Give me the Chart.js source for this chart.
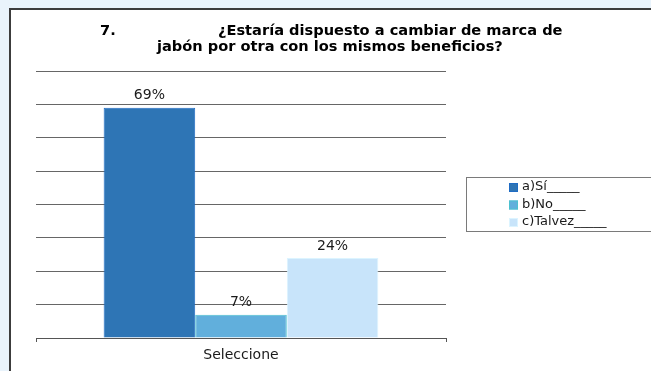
<!DOCTYPE html>
<html>
<head>
<meta charset="utf-8">
<script src="https://cdn.jsdelivr.net/npm/chart.js@4"></script>
<style>
  html, body { margin: 0; padding: 0; }
  body { width: 651px; height: 371px; overflow: hidden; background: #e9f3fb; position: relative; }
  #frame { position: absolute; left: 9px; top: 8px; width: 700px; height: 400px; background: #fff;
           border-left: 2px solid #3c3c3c; border-top: 2px solid #3c3c3c; }
  #chart { position: absolute; left: 0; top: 0; }
</style>
</head>
<body>
<div id="frame"></div>
<canvas id="chart" width="651" height="371"></canvas>
<script>
// pregunta 7: cambio de marca de jabón
const titleNumber = "7.";
const titleLines = [
  "¿Estaría dispuesto a cambiar de marca de",
  "jabón por otra con los mismos beneficios?"
];
const categories = ["Seleccione"];
const seriesNames = ["a)Sí_____", "b)No_____", "c)Talvez_____"];
const seriesValues = [69, 7, 24];
const fillColors = ["#2e75b5", "#61afdc", "#c8e4fa"];
const borderColors = ["#1f6cc4", "#4cc1d0", "#dcf4ff"];
const yTicks = [0, 10, 20, 30, 40, 50, 60, 70, 80];

const FONT = "'DejaVu Sans', Verdana, sans-serif";

// título: número con tabulación y pregunta en dos líneas
const titlePlugin = {
  id: "titulo",
  afterDraw(chart) {
    const ctx = chart.ctx;
    ctx.save();
    ctx.fillStyle = "#000";
    ctx.font = "bold 14.6px " + FONT;
    ctx.textBaseline = "middle";
    ctx.textAlign = "left";
    ctx.fillText(titleNumber, 100, 31);
    ctx.fillText(titleLines[0], 218, 31);
    ctx.fillText(titleLines[1], 157, 47);
    ctx.restore();
  }
};

// porcentajes encima de cada barra
const labelsPlugin = {
  id: "etiquetas",
  afterDatasetsDraw(chart) {
    const ctx = chart.ctx;
    ctx.save();
    ctx.font = "14px " + FONT;
    ctx.fillStyle = "#1a1a1a";
    ctx.textAlign = "center";
    ctx.textBaseline = "middle";
    chart.data.datasets.forEach((ds, i) => {
      const bar = chart.getDatasetMeta(i).data[0];
      ctx.fillText(ds.data[0] + "%", bar.x, bar.y - 12);
    });
    ctx.restore();
  }
};

// leyenda con recuadro a la derecha
const legendPlugin = {
  id: "leyendaCaja",
  afterDraw(chart) {
    const ctx = chart.ctx;
    ctx.save();
    ctx.strokeStyle = "#7a7a7a";
    ctx.lineWidth = 1;
    ctx.strokeRect(466.5, 177.5, 220, 54);
    ctx.font = "13px " + FONT;
    ctx.textBaseline = "middle";
    ctx.textAlign = "left";
    chart.data.datasets.forEach((ds, i) => {
      const y = 187 + i * 17.5;
      ctx.fillStyle = ds.backgroundColor;
      ctx.fillRect(509, y - 4, 9, 9);
      ctx.strokeStyle = ds.borderColor;
      ctx.strokeRect(509.5, y - 3.5, 8, 8);
      ctx.fillStyle = "#1a1a1a";
      ctx.fillText(ds.label, 522, y);
    });
    ctx.restore();
  }
};

new Chart(document.getElementById("chart"), {
  type: "bar",
  data: {
    labels: categories,
    datasets: seriesNames.map((name, i) => ({
      label: name,
      data: [seriesValues[i]],
      backgroundColor: fillColors[i],
      borderColor: borderColors[i],
      borderWidth: 1,
      categoryPercentage: 0.67,
      barPercentage: 1.0
    }))
  },
  options: {
    responsive: false,
    animation: false,
    layout: { padding: { left: 36, right: 205, top: 71, bottom: 0 } },
    plugins: {
      legend: { display: false },
      title: { display: false },
      tooltip: { enabled: false }
    },
    scales: {
      x: {
        grid: { display: true, drawOnChartArea: false, offset: true, tickLength: 4, color: "#555" },
        border: { display: true, color: "#555", width: 1 },
        ticks: { color: "#1a1a1a", font: { family: FONT, size: 14 }, padding: 5 },
        afterFit(scale) { scale.height = 33; }
      },
      y: {
        min: yTicks[0],
        max: yTicks[yTicks.length - 1],
        afterBuildTicks(scale) { scale.ticks = yTicks.map(v => ({ value: v })); },
        grid: { color: "#666", drawTicks: false, lineWidth: 1 },
        border: { display: false },
        ticks: { display: false },
        afterFit(scale) { scale.width = 0; }
      }
    }
  },
  plugins: [titlePlugin, labelsPlugin, legendPlugin]
});
</script>
</body>
</html>
